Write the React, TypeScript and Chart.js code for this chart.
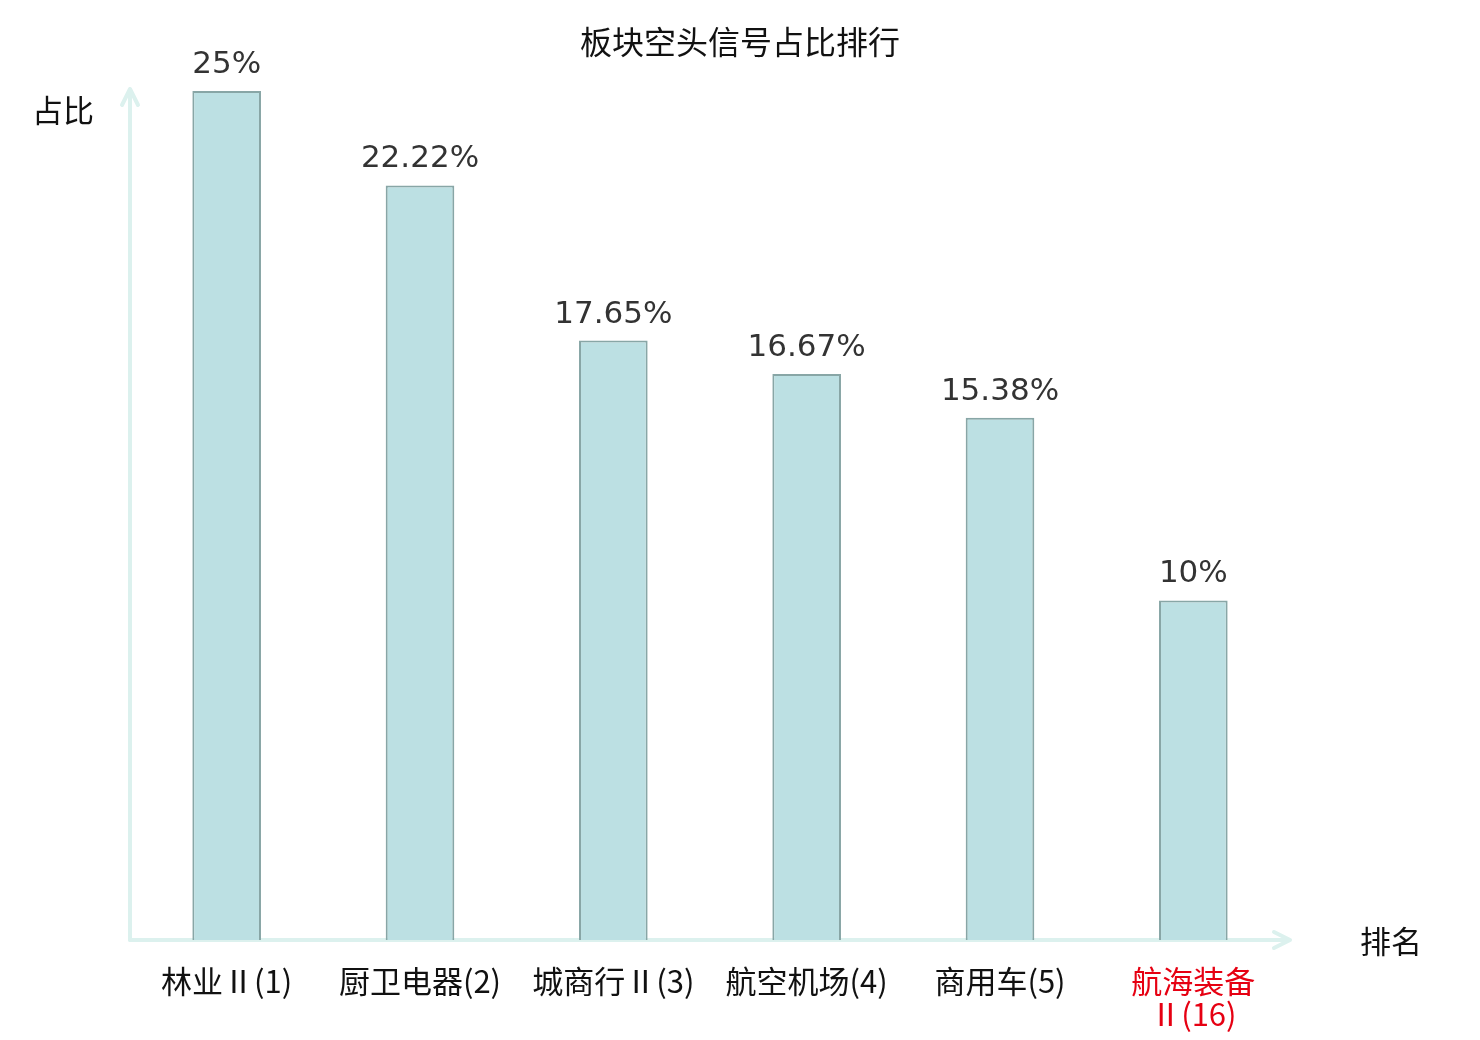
import { useEffect, useRef } from "react"
import { Chart, registerables } from "chart.js"

Chart.register(...registerables)

const categories: (string | string[])[] = [
  "林业Ⅱ(1)",
  "厨卫电器(2)",
  "城商行Ⅱ(3)",
  "航空机场(4)",
  "商用车(5)",
  ["航海装备", "Ⅱ(16)"],
]
const shares = [25, 22.22, 17.65, 16.67, 15.38, 10]
const labelColors = ["#111", "#111", "#111", "#111", "#111", "#e60012"]

const CJK = "'Noto Sans CJK SC', 'DejaVu Sans', sans-serif"
const AXIS_COLOR = "#dcf1ee"

// title, axis arrows, axis names and value labels
const decorations = {
  id: "decorations",
  beforeDatasetsDraw(chart: Chart) {
    const { ctx, chartArea } = chart
    const { left, right, top, bottom } = chartArea
    ctx.save()
    ctx.strokeStyle = AXIS_COLOR
    ctx.lineWidth = 4
    ctx.lineCap = "round"
    ctx.lineJoin = "round"
    // y axis
    ctx.beginPath()
    ctx.moveTo(left, bottom)
    ctx.lineTo(left, top - 2)
    ctx.moveTo(left - 8, top + 14)
    ctx.lineTo(left, top - 2)
    ctx.lineTo(left + 8, top + 14)
    ctx.stroke()
    // x axis
    ctx.beginPath()
    ctx.moveTo(left, bottom)
    ctx.lineTo(right, bottom)
    ctx.moveTo(right - 16, bottom - 8)
    ctx.lineTo(right, bottom)
    ctx.lineTo(right - 16, bottom + 8)
    ctx.stroke()
    ctx.restore()
  },
  afterDatasetsDraw(chart: Chart) {
    const { ctx } = chart
    ctx.save()
    ctx.fillStyle = "#111"
    ctx.textAlign = "center"
    ctx.textBaseline = "middle"
    ctx.font = `32px ${CJK}`
    ctx.fillText("板块空头信号占比排行", 740, 42)
    ctx.font = `31px ${CJK}`
    ctx.fillText("占比", 63, 110)
    ctx.fillText("排名", 1391, 941)

    const meta = chart.getDatasetMeta(0)
    ctx.fillStyle = "#333"
    ctx.textBaseline = "alphabetic"
    ctx.font = "31px 'DejaVu Sans', sans-serif"
    meta.data.forEach((bar, i) => {
      ctx.fillText(`${shares[i]}%`, bar.x, bar.y - 18)
    })
    ctx.restore()
  },
}

export default function App() {
  const canvasRef = useRef<HTMLCanvasElement | null>(null)
  const chartRef = useRef<Chart | null>(null)

  useEffect(() => {
    document.body.style.margin = "0"
    if (!canvasRef.current) return
    if (chartRef.current) chartRef.current.destroy()

    chartRef.current = new Chart(canvasRef.current, {
      type: "bar",
      data: {
        labels: categories,
        datasets: [
          {
            data: shares,
            backgroundColor: "#bce0e3",
            borderColor: "#88a6a6",
            borderWidth: 2,
            barPercentage: 0.355,
            categoryPercentage: 1,
          },
        ],
      },
      options: {
        animation: false,
        responsive: false,
        maintainAspectRatio: false,
        layout: { padding: { top: 91, left: 130, right: 190, bottom: 0 } },
        plugins: {
          legend: { display: false },
          tooltip: { enabled: false },
        },
        scales: {
          x: {
            grid: { display: false, drawTicks: false },
            border: { display: false },
            ticks: {
              padding: 25,
              color: (c) => labelColors[c.index] ?? "#111",
              font: { family: CJK, size: 31, lineHeight: 1.05 },
              maxRotation: 0,
              autoSkip: false,
            },
            afterFit: (scale) => {
              scale.height = 100
            },
          },
          y: {
            display: false,
            min: 0,
            max: 25,
          },
        },
      },
      plugins: [decorations],
    })

    return () => {
      if (chartRef.current) {
        chartRef.current.destroy()
        chartRef.current = null
      }
    }
  }, [])

  return (
    <div style={{ width: 1480, height: 1040, background: "#fff" }}>
      <canvas ref={canvasRef} width={1480} height={1040}></canvas>
    </div>
  )
}
